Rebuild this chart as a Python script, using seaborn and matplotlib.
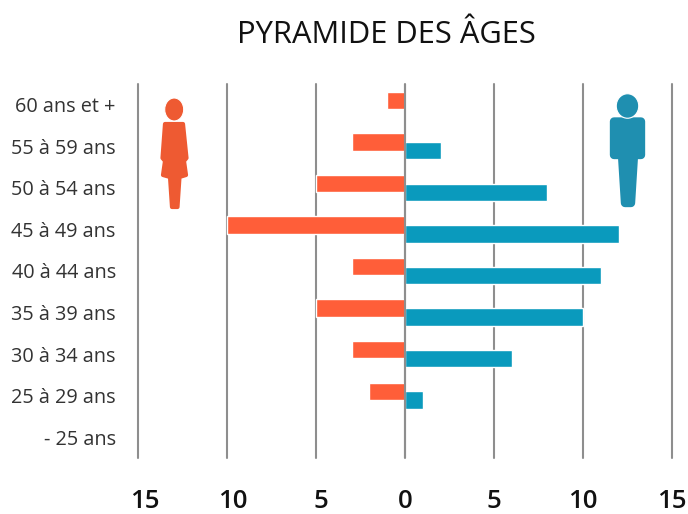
import matplotlib
matplotlib.use('Agg')
import matplotlib.pyplot as plt
from matplotlib.patches import Ellipse, Polygon
from matplotlib.transforms import ScaledTranslation
import pandas as pd
import seaborn as sns

ages = ['60 ans et +', '55 à 59 ans', '50 à 54 ans', '45 à 49 ans', '40 à 44 ans',
        '35 à 39 ans', '30 à 34 ans', '25 à 29 ans', '- 25 ans']
femmes = [1, 3, 5, 10, 3, 5, 3, 2, 0]
hommes = [0, 2, 8, 12, 11, 10, 6, 1, 0]
ticks = [-15, -10, -5, 0, 5, 10, 15]
tick_labels = ['15', '10', '5', '0', '5', '10', '15']

W, H = 688, 514
ORANGE = '#FF5E39'
BLUE = '#0A9ABD'
ORANGE_ICON = '#EE5A32'
BLUE_ICON = '#1F8FB0'
GRID = '#8E8E8E'

sns.set_theme(style='white')
plt.rcParams['font.family'] = ['Open Sans', 'DejaVu Sans']

df = pd.DataFrame({
    'age': ages * 2,
    'valeur': [-v for v in femmes] + hommes,
    'sexe': ['F'] * len(ages) + ['H'] * len(ages),
})

fig = plt.figure(figsize=(W / 100, H / 100), dpi=100)
ax = fig.add_axes([138 / W, 1 - 458 / H, (672 - 138) / W, (458 - 84) / H])

sns.barplot(data=df, y='age', x='valeur', hue='sexe', order=ages, orient='h', dodge=False,
            palette={'F': ORANGE, 'H': BLUE}, saturation=1, width=0.42, legend=False,
            ax=ax, zorder=3)

# the two series overlap by a bit, shift each one off the row centre
for cont, shift in zip(ax.containers, [-0.105, 0.105]):
    for bar in cont:
        bar.set_y(bar.get_y() + shift)

ax.set_xlim(-15, 15)
ax.set_ylim(len(ages) - 0.5, -0.5)
ax.set_xticks(ticks)
ax.set_xticklabels(tick_labels, fontsize=18.5, fontweight='semibold', color='#111111')
ax.tick_params(axis='x', length=0, pad=22)
ax.tick_params(axis='y', length=0, pad=16, labelsize=14.3, labelcolor='#333333')
ax.set_xlabel('')
ax.set_ylabel('')
ax.xaxis.grid(True, color=GRID, linewidth=1.5, clip_on=False)
ax.set_axisbelow(True)
ax.axvline(0, color=GRID, linewidth=1.5, zorder=5)
sns.despine(ax=ax, left=True, bottom=True)

# left side labels sit a bit to the right of their lines
for lab, dx in zip(ax.get_xticklabels(), [7, 6, 5, 0, 0, 0, 0]):
    lab.set_transform(lab.get_transform() + ScaledTranslation(dx / 100, 0, fig.dpi_scale_trans))

fig.text(386 / W, 1 - 35 / H, 'PYRAMIDE DES ÂGES', ha='center', va='center',
         fontsize=22.2, color='#111111')

# icons, overlay in pixel coords
icons = fig.add_axes([0, 0, 1, 1], facecolor='none')
icons.set_xlim(0, W)
icons.set_ylim(H, 0)
icons.axis('off')

icons.add_patch(Polygon([(165, 124), (183, 124), (186.5, 158), (184, 161), (186, 175),
                         (179.5, 177), (177.5, 207), (172, 207), (170, 177), (163, 175),
                         (165, 161), (162.5, 158)],
                        closed=True, fc=ORANGE_ICON, ec=ORANGE_ICON, lw=3, joinstyle='round'))
icons.add_patch(Ellipse((174.2, 109.5), 19, 23, fc=ORANGE_ICON, ec='white', lw=0.8))
icons.add_patch(Polygon([(614, 121.5), (641, 121.5), (641, 155), (634, 155), (631, 203),
                         (625, 203), (622, 155), (614, 155)],
                        closed=True, fc=BLUE_ICON, ec=BLUE_ICON, lw=6, joinstyle='round'))
icons.add_patch(Ellipse((627.5, 106), 22.5, 24.5, fc=BLUE_ICON, ec='white', lw=0.8))

fig.savefig('out.png', dpi=100)
